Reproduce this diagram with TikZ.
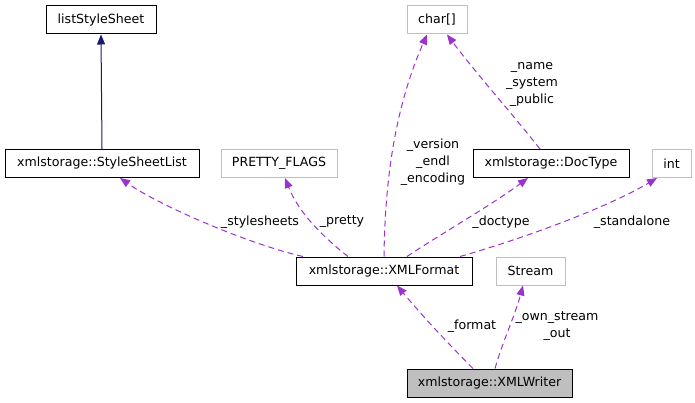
\documentclass[tikz,border=0pt]{standalone}
\usepackage{fontspec}
\setmainfont{DejaVu Sans}
\usetikzlibrary{arrows.meta}
\definecolor{edgepurple}{HTML}{9A32CD}
\definecolor{navyedge}{HTML}{191970}
\definecolor{greyborder}{HTML}{BFBFBF}
\begin{document}
\begin{tikzpicture}[x=1pt,y=-1pt,
  font=\fontsize{12.6}{17}\selectfont,
  cls/.style={draw=black,line width=1pt,inner sep=0pt,minimum height=28pt,anchor=center},
  ext/.style={draw=greyborder,line width=1pt,inner sep=0pt,minimum height=28pt,anchor=center},
  use/.style={draw=edgepurple,line width=1pt,dash pattern=on 6pt off 4pt,-{Triangle[length=10pt,width=8pt,fill=edgepurple]}},
  inh/.style={draw=navyedge,line width=1pt,-{Triangle[length=10pt,width=8pt,fill=navyedge]}},
  lbl/.style={inner sep=0pt,align=center}]
\useasboundingbox (0,0) rectangle (695,403);
% nodes
\node[cls,minimum width=110pt] (lss) at (101,20) {listStyleSheet};
\node[cls,minimum width=194pt] (ssl) at (102,163.5) {xmlstorage::StyleSheetList};
\node[ext,minimum width=116pt] (pf) at (279,163.5) {PRETTY\_FLAGS};
\node[ext,minimum width=60pt] (chr) at (437,20) {char[]};
\node[cls,minimum width=156pt] (dt) at (551,163.5) {xmlstorage::DocType};
\node[ext,minimum width=39pt] (int) at (671.5,163.5) {int};
\node[cls,minimum width=176pt] (xf) at (384,271) {xmlstorage::XMLFormat};
\node[ext,minimum width=69pt] (st) at (530.5,271) {Stream};
\node[cls,fill=greyborder,minimum width=165pt] (xw) at (489.5,383) {xmlstorage::XMLWriter};
% edges
\draw[inh] (ssl.north) -- (lss.south);
\draw[use] ([xshift=-81pt]xf.north) .. controls +(-53,-12) and +(40,28) .. ([xshift=18pt]ssl.south);
\draw[use] ([xshift=-36pt]xf.north) .. controls +(-28,-22) and +(13,33) .. ([xshift=6pt]pf.south);
\draw[use] (xf.north) .. controls +(1,-87) and +(-29,66) .. ([xshift=-10pt]chr.south);
\draw[use] ([xshift=-11pt]dt.north) .. controls +(-30,-38) and +(30,40) .. ([xshift=10pt]chr.south);
\draw[use] ([xshift=23pt]xf.north) .. controls +(33,-22) and +(-38,28) .. ([xshift=-23pt]dt.south);
\draw[use] ([xshift=76pt]xf.north) .. controls +(70,-20) and +(-47,28) .. ([xshift=-14.5pt]int.south);
\draw[use] ([xshift=-16.5pt]xw.north) .. controls +(-25,-25) and +(25,30) .. ([xshift=13pt]xf.south);
\draw[use] ([xshift=5.5pt]xw.north) .. controls +(8,-28) and +(-8,30) .. ([xshift=-7.5pt]st.south);
% labels
\node[lbl] (l1) at (260,222) {\_stylesheets};
\node[lbl] (l2) at (342,222) {\_pretty};
\node[lbl] (l3) at (433,162) {\_version\\\_endl\\\_encoding};
\node[lbl] (l4) at (532,84) {\_name\\\_system\\\_public};
\node[lbl] (l5) at (501,222) {\_doctype};
\node[lbl] (l6) at (632,222) {\_standalone};
\node[lbl] (l7) at (472,326) {\_format};
\node[lbl] (l8) at (557,326) {\_own\_stream\\\_out};
\end{tikzpicture}
\end{document}
